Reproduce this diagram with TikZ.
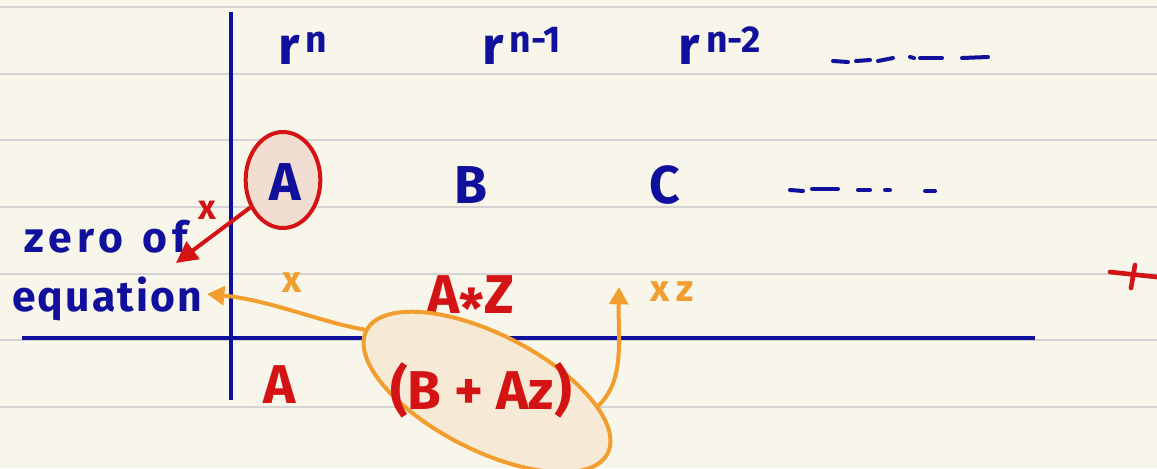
\documentclass[tikz,border=0pt]{standalone}
\usepackage{fontspec}
\setmainfont{Fira Sans}
\usetikzlibrary{arrows.meta,shapes.geometric}
\definecolor{paper}{HTML}{F8F6EB}
\definecolor{rulegray}{HTML}{D3D3D3}
\definecolor{ink}{HTML}{10109C}
\definecolor{rd}{HTML}{D41414}
\definecolor{org}{HTML}{F29E2E}
\definecolor{pinkfill}{HTML}{F2DDD3}
\definecolor{orgfill}{HTML}{F6EAD6}
\begin{document}
\begin{tikzpicture}[x=0.75pt,y=-0.75pt,
  ruling/.style={rulegray,line width=1.5pt},
  axis/.style={ink,line width=3.2pt},
  bluetxt/.style={ink,inner sep=0pt,font=\bfseries\fontsize{40}{40}\selectfont},
  labeltxt/.style={ink,inner sep=0pt,font=\bfseries\fontsize{32}{32}\selectfont},
  redtxt/.style={rd,inner sep=0pt,font=\bfseries\fontsize{41}{41}\selectfont},
  smallred/.style={rd,inner sep=0pt,font=\bfseries\fontsize{26}{26}\selectfont},
  smallorg/.style={org,inner sep=0pt,font=\bfseries\fontsize{28}{28}\selectfont},
  dashink/.style={ink,line width=3pt,line cap=round},
  redarrow/.style={rd,line width=3pt,-{Triangle[length=16pt,width=16pt]}},
  orgarrow/.style={org,line width=3pt,-{Triangle[length=13pt,width=14pt]}}]
\fill[paper] (0,0) rectangle (1157,468);
\useasboundingbox (0,0) rectangle (1157,468);
\foreach \y in {7,74,140,207,274,340,407} \draw[ruling] (0,\y) -- (1157,\y);
% axes
\draw[axis] (231,12) -- (231,400);
\draw[axis] (22,338) -- (1035,338);
% powers
\node[bluetxt] (p0) at (303,48) {r\textsuperscript{\,n}};
\node[bluetxt] (p1) at (522,46) {r\textsuperscript{\,n-1}};
\node[bluetxt] (p2) at (720,46) {r\textsuperscript{\,n-2}};
\draw[dashink] (833,61) -- (848,62);
\draw[dashink] (856,61) -- (870,60);
\draw[dashink] (878,61) -- (893,58);
\draw[dashink] (910,57) -- (914,58);
\draw[dashink] (920,58) -- (942,58);
\draw[dashink] (962,58) -- (988,57);
% coefficients
\node[ellipse,draw=rd,fill=pinkfill,line width=3pt,minimum width=56pt,minimum height=72pt,inner sep=0pt] (cA) at (283,180) {};
\node[bluetxt] (tA) at (285,182) {A};
\node[bluetxt] (tB) at (471,185) {B};
\node[bluetxt] (tC) at (665,185) {C};
\draw[dashink] (790,190) -- (803,191);
\draw[dashink] (812,189) -- (838,189);
\draw[dashink] (858,190) -- (870,190);
\draw[dashink] (885,190) -- (890,190);
\draw[dashink] (925,191) -- (935,191);
% left labels
\node[labeltxt] (zero) at (106,237) {\addfontfeatures{LetterSpace=12}zero\hspace{0.45em}of};
\node[labeltxt] (eqn) at (107,299) {\addfontfeatures{LetterSpace=5}equation};
\node[smallred] (xr) at (207,210) {x};
\node[smallorg] (xo) at (292,283) {x};
% red arrow
\coordinate (redtip) at (176,263);
\draw[redarrow] (cA.220) -- (redtip);
% third row
\node[redtxt] (AZ) at (471,302) {A\raisebox{-0.28em}{*}Z};
\node[smallorg] (xz) at (672,292) {x\,z};
% orange ellipse
\node[ellipse,draw=org,fill=orgfill,line width=3pt,minimum width=203pt,minimum height=87pt,inner sep=0pt,rotate=-27] (oE) at (487,392) {};
\node[redtxt] (A2) at (280,385) {A};
\node[redtxt] (BAz) at (481,390) {(B + Az)};
% orange arrows
\coordinate (eqtip) at (207,294);
\coordinate (xztip) at (619,287);
\draw[orgarrow] (oE.west) .. controls (320,322) and (270,300) .. (eqtip);
\draw[orgarrow] (oE.20) .. controls (625,380) and (618,340) .. (xztip);
% red plus at right
\draw[rd,line width=3.5pt,line cap=round] (1110,272) -- (1157,277);
\draw[rd,line width=3.5pt,line cap=round] (1135,265) -- (1131,288);
\end{tikzpicture}
\end{document}
